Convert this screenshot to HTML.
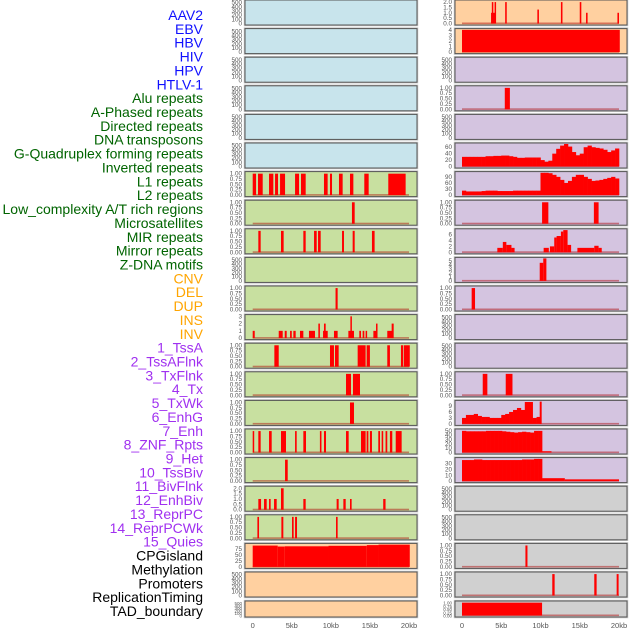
<!DOCTYPE html>
<html><head><meta charset="utf-8"><style>
html,body{margin:0;padding:0;background:#fff;}
svg{display:block;font-family:"Liberation Sans",sans-serif;}
</style></head><body>
<svg id="chart" width="630" height="630" viewBox="0 0 630 630"></svg>
<script>
const trackLabels = ["AAV2","EBV","HBV","HIV","HPV","HTLV-1","Alu repeats","A-Phased repeats","Directed repeats","DNA transposons","G-Quadruplex forming repeats","Inverted repeats","L1 repeats","L2 repeats","Low_complexity A/T rich regions","Microsatellites","MIR repeats","Mirror repeats","Z-DNA motifs","CNV","DEL","DUP","INS","INV","1_TssA","2_TssAFlnk","3_TxFlnk","4_Tx","5_TxWk","6_EnhG","7_Enh","8_ZNF_Rpts","9_Het","10_TssBiv","11_BivFlnk","12_EnhBiv","13_ReprPC","14_ReprPCWk","15_Quies","CPGisland","Methylation","Promoters","ReplicationTiming","TAD_boundary"];
const labelGroups = [0,0,0,0,0,0,1,1,1,1,1,1,1,1,1,1,1,1,1,2,2,2,2,2,3,3,3,3,3,3,3,3,3,3,3,3,3,3,3,4,4,4,4,4];
const xTickLabels = ["0","5kb","10kb","15kb","20kb"];
const xTickValues = [0,5,10,15,20];
const emptyTicks = [0,100,200,300,400,500];
const binTicks = [0,0.25,0.5,0.75,1];
// segments [startKb, endKb, value]
const segAAV2R = [[3.7,4.3,1],[3.8,3.95,2],[4.15,4.3,2],[5.5,5.7,2],[9.6,9.8,1.3],[12.6,12.8,2],[15.0,15.2,2],[15.8,16.0,1],[19.8,20,1]];
const segHBVR = [[0,20.1,4]];
const segR3 = [[5.45,6.1,1]];
const profR5 = [30,30,30,30,30,30,32,32,33,33,34,34,32,30,27,27,28,28,28,28,20,15,18,40,55,65,70,62,45,35,40,60,65,60,58,56,52,45,50,56];
const segL6 = [[0,0.43,1],[0.68,1.28,1],[2.09,2.64,1],[2.86,3.24,1],[3.5,4.14,1],[5.42,5.93,1],[6.18,6.78,1],[9.12,9.59,1],[9.89,10.15,1],[11.04,11.51,1],[12.45,12.88,1],[14.28,14.84,1],[17.35,19.57,1]];
const profR6 = [22,18,18,18,18,20,22,22,22,20,20,20,20,22,22,22,22,22,22,22,110,110,108,100,90,75,60,70,90,100,100,90,80,70,72,75,80,85,90,82];
const segL7 = [[12.7,13.05,1]];
const segR7 = [[10.2,11.0,1],[16.8,17.4,1]];
const segL8 = [[0.72,1.02,1],[3.62,3.96,1],[6.48,6.78,1],[7.85,8.19,1],[8.36,8.7,1],[11.43,11.68,1],[12.79,13.05,1],[15.26,15.6,1]];
const segR8 = [[4.5,5.2,1.5],[5.2,5.65,3.5],[5.65,6.3,2.5],[6.3,6.7,1.5],[10.4,11.06,1.5],[11.2,11.75,2],[11.75,12.05,5],[12.05,12.6,5.5],[12.6,12.9,7],[12.9,13.45,7.5],[13.45,13.9,2.5],[14.7,16.85,1.5],[16.85,17.4,2.2],[17.4,17.8,1.5]];
const segR9 = [[9.9,10.35,4.5],[10.35,10.75,5.6]];
const segL10 = [[10.6,10.87,1]];
const segR10 = [[1.23,1.66,1]];
const segL11 = [[0,0.26,1],[3.33,3.84,1],[4.1,4.35,1],[4.78,5.0,1],[5.2,5.5,1],[6.05,6.48,1],[7.2,7.97,1],[8.4,8.6,2],[9.0,9.6,1],[9.12,9.34,2],[10.4,10.87,1],[12.24,12.96,1],[12.5,12.66,3],[13.64,13.86,1],[14.07,14.28,1],[14.45,14.58,1],[15.44,15.86,1],[15.78,15.95,2],[17.22,17.9,1],[17.78,18.04,2]];
const segL12 = [[2.77,3.33,1],[9.89,10.4,1],[10.53,11.0,1],[13.43,14.45,1],[14.58,15.0,1],[17.22,17.56,1],[18.97,19.27,1],[19.36,20.1,1]];
const segL13 = [[11.94,12.58,1],[12.83,13.73,1]];
const segR13 = [[2.64,3.23,1],[5.57,6.43,1]];
const segL14 = [[12.45,12.96,1]];
const profR14 = [3,4.5,4.5,5,4,3.5,3.5,3,3,3,4.5,5,6,7,8,7,11,11,3,3.5];
const segR14 = [[9.9,10.15,11.2]];
const segL15 = [[0,0.17,1],[0.72,1.02,1],[2.09,2.43,1],[3.62,4.26,1],[5.42,5.63,1],[6.48,6.82,1],[8.6,8.8,1],[9.12,9.38,1],[11.94,12.28,1],[13.86,14.45,1],[14.58,14.8,1],[15.0,15.26,1],[16.07,16.29,1],[16.5,16.7,1],[17.0,17.22,1],[17.56,17.86,1],[18.3,19.06,1]];
const profR15 = [50,49,49,49,49,49,50,50,50,50,49,48,47,46,47,48,47,46,50,50];
const segR15 = [[10.2,11.4,3]];
const segL16 = [[4.14,4.48,1]];
const profR16 = [36,36,36,37,37,36,36,36,36,36,36,36,36,36,36,37,37,37,38,38];
const segR16 = [[10.2,13.1,5],[13.1,20,3]];
const segL17 = [[0.72,1.07,1],[1.45,1.79,1],[2.09,2.3,1],[2.73,3.07,1],[3.62,3.96,2],[6.48,6.78,1],[10.74,11.0,1],[11.6,11.9,1],[12.45,12.66,1],[16.7,17.0,1]];
const segL18 = [[0.6,0.81,1],[3.67,3.92,1],[5.03,5.24,1],[5.42,5.67,1],[10.66,10.87,1]];
const segL19 = [[0,3.2,90],[3.2,4.1,86],[4.1,9.7,87],[9.7,14.6,89],[14.6,16.1,92],[16.1,20.1,94]];
const segR19 = [[8.08,8.34,1]];
const segR20 = [[11.5,11.8,1],[16.85,17.15,1],[19.7,19.95,1]];
const segR21 = [[0,10.2,1]];

const BLUE="#c8e4ec", GREEN="#c8e0a0", PEACH="#ffd0a0", PURPLE="#d4c4e0", GRAY="#d0d0d0";
const groupColors = ["#1010ff","#006400","#ffa500","#a030f0","#000000"];
function E(bg){return {ticks:emptyTicks,ymax:540,bg:bg,dec:0};}
function B(bg,segs){return {ticks:binTicks,ymax:1.05,bg:bg,dec:2,segs:segs};}
const rows = [
 [E(BLUE), {ticks:[0,0.5,1,1.5,2],ymax:2.1,bg:PEACH,dec:1,segs:segAAV2R}],
 [E(BLUE), {ticks:[0,1,2,3,4],ymax:4.05,bg:PEACH,dec:0,segs:segHBVR}],
 [E(BLUE), E(PURPLE)],
 [E(BLUE), B(PURPLE,segR3)],
 [E(BLUE), E(PURPLE)],
 [E(BLUE), {ticks:[0,20,40,60],ymax:70,bg:PURPLE,dec:0,prof:profR5,bw:0.5}],
 [B(GREEN,segL6), {ticks:[0,30,60,90],ymax:111,bg:PURPLE,dec:0,prof:profR6,bw:0.5}],
 [B(GREEN,segL7), B(PURPLE,segR7)],
 [B(GREEN,segL8), {ticks:[0,2,4,6],ymax:7.6,bg:PURPLE,dec:0,segs:segR8}],
 [E(GREEN), {ticks:[0,1,2,3,4,5],ymax:5.6,bg:PURPLE,dec:0,segs:segR9}],
 [B(GREEN,segL10), B(PURPLE,segR10)],
 [{ticks:[0,1,2,3],ymax:3.1,bg:GREEN,dec:0,segs:segL11}, E(PURPLE)],
 [B(GREEN,segL12), E(PURPLE)],
 [B(GREEN,segL13), B(PURPLE,segR13)],
 [B(GREEN,segL14), {ticks:[0,3,6,9],ymax:11.3,bg:PURPLE,dec:0,prof:profR14,bw:0.5,segs:segR14}],
 [B(GREEN,segL15), {ticks:[0,10,20,30,40,50],ymax:52,bg:PURPLE,dec:0,prof:profR15,bw:0.51,segs:segR15}],
 [B(GREEN,segL16), {ticks:[0,10,20,30],ymax:38.5,bg:PURPLE,dec:0,prof:profR16,bw:0.51,segs:segR16}],
 [{ticks:[0,0.5,1,1.5,2],ymax:2.1,bg:GREEN,dec:1,segs:segL17}, E(GRAY)],
 [B(GREEN,segL18), E(GRAY)],
 [{ticks:[0,25,50,75],ymax:95,bg:PEACH,dec:0,segs:segL19}, B(GRAY,segR19)],
 [E(PEACH), B(GRAY,segR20)],
 [E(PEACH), B(GRAY,segR21)]
];

const NS="http://www.w3.org/2000/svg";
const svg=document.getElementById('chart');
function mk(tag,attrs,parent){const el=document.createElementNS(NS,tag);for(const k in attrs)el.setAttribute(k,attrs[k]);(parent||svg).appendChild(el);return el;}
const cols=[{left:245,right:417,x0:252.7,x20:409},{left:455,right:627,x0:462,x20:619}];
function xs(c,kb){return cols[c].x0+kb*(cols[c].x20-cols[c].x0)/20;}

// labels
trackLabels.forEach((t,i)=>{
  const el=mk('text',{x:203,y:15+i*13.86+5,'text-anchor':'end','font-size':14,fill:groupColors[labelGroups[i]]});
  el.textContent=t;
  
  
});

rows.forEach((row,i)=>{
  const top = i<21 ? i*28.6 : 601;
  const h = i<21 ? 25 : 16;
  row.forEach((p,c)=>{
    const g=mk('g',{});
    
    
    const L=cols[c].left, W=cols[c].right-cols[c].left;
    mk('rect',{x:L-0.5,y:top-0.5,width:W+1,height:h+1,fill:'none',stroke:'#c8c8c8','stroke-width':1.5},g);
    mk('rect',{x:L,y:top,width:W,height:h,fill:p.bg,stroke:'#555','stroke-width':1},g);
    const bottom=top+h-1.5, ph=h-2.5;
    const ys=v=>bottom-v/p.ymax*ph;
    p.ticks.forEach(v=>{
      const t=mk('text',{x:L-3,y:ys(v)+2,'text-anchor':'end','font-size':i===21?4.5:6.3,fill:'#555'},g);
      t.textContent=v.toFixed(p.dec);
      
      
    });
    const hasData=(p.segs&&p.segs.length)||p.prof;
    if(!hasData)return;
    mk('rect',{x:xs(c,0),y:bottom-1,width:xs(c,20)-xs(c,0),height:1.6,fill:'rgba(170,0,0,0.45)'},g);
    if(p.prof){
      p.prof.forEach((v,k)=>{
        const r=mk('rect',{x:xs(c,k*p.bw),y:ys(v),width:xs(c,(k+1)*p.bw)-xs(c,k*p.bw)+0.3,height:bottom-ys(v),fill:'#ff0000'},g);
        
        
      });
    }
    if(p.segs){
      p.segs.forEach(s=>{
        const x1=xs(c,s[0]),x2=xs(c,s[1]);
        const r=mk('rect',{x:x1,y:ys(s[2]),width:Math.max(1.5,x2-x1),height:bottom-ys(s[2]),fill:'#ff0000'},g);
        
        
      });
    }
  });
});

// x axes
cols.forEach((col,c)=>{
  xTickValues.forEach((v,k)=>{
    const t=mk('text',{x:xs(c,v),y:628,'text-anchor':'middle','font-size':7.5,fill:'#555'});
    t.textContent=xTickLabels[k];
    
    
  });
});
</script>
</body></html>
